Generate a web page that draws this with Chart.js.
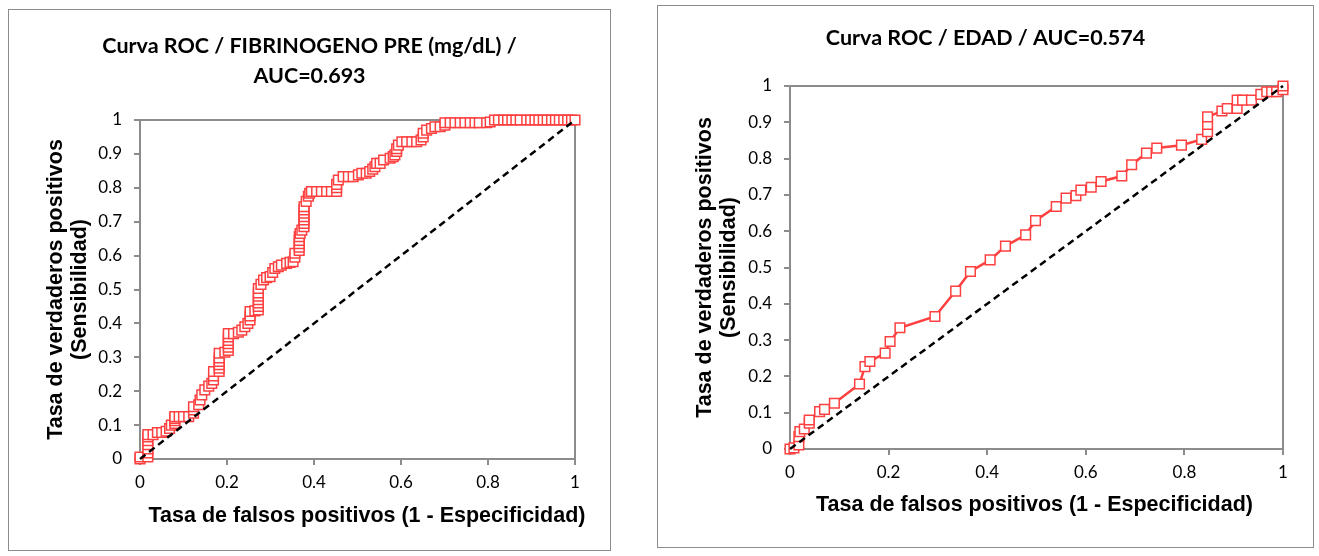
<!DOCTYPE html>
<html>
<head>
<meta charset="utf-8">
<script src="https://cdn.jsdelivr.net/npm/chart.js@4.4.1/dist/chart.umd.min.js"></script>
<style>
  body { margin: 0; background: #fff; }
  .box { position: absolute; border: 1px solid #8c8c8c; }
  #box1 { left: 8px; top: 9px; width: 601px; height: 540px; }
  #box2 { left: 657px; top: 5px; width: 655px; height: 541px; }
  canvas { display: block; }
</style>
</head>
<body>
<div class="box" id="box1"><canvas id="rocFib" width="601" height="540"></canvas></div>
<div class="box" id="box2"><canvas id="rocEdad" width="655" height="541"></canvas></div>
<script>
// ---- data ----
const xTickLabels = ['0', '0.2', '0.4', '0.6', '0.8', '1'];
const yTickLabels = ['0', '0.1', '0.2', '0.3', '0.4', '0.5', '0.6', '0.7', '0.8', '0.9', '1'];
const diagFpr = [0, 1];
const diagTpr = [0, 1];

// FIBRINOGENO PRE (mg/dL)
const fibFpr = [0, 0, 0.018, 0.018, 0.018, 0.018, 0.018, 0.018, 0.018, 0.03,
  0.04, 0.05, 0.06, 0.068, 0.072, 0.08, 0.08, 0.08, 0.08, 0.09,
  0.1, 0.112, 0.123, 0.123, 0.123, 0.135, 0.138, 0.142, 0.149, 0.158,
  0.165, 0.169, 0.169, 0.169, 0.182, 0.182, 0.182, 0.182, 0.182, 0.182,
  0.195, 0.203, 0.203, 0.203, 0.203, 0.203, 0.203, 0.215, 0.226, 0.234,
  0.241, 0.248, 0.253, 0.253, 0.253, 0.264, 0.272, 0.272, 0.272, 0.272,
  0.272, 0.272, 0.272, 0.278, 0.284, 0.291, 0.299, 0.305, 0.31, 0.318,
  0.325, 0.337, 0.345, 0.352, 0.356, 0.356, 0.366, 0.366, 0.366, 0.366,
  0.366, 0.368, 0.372, 0.377, 0.377, 0.377, 0.377, 0.377, 0.377, 0.377,
  0.382, 0.387, 0.39, 0.394, 0.406, 0.417, 0.429, 0.44, 0.452, 0.452,
  0.452, 0.456, 0.467, 0.479, 0.49, 0.502, 0.51, 0.52, 0.528, 0.535,
  0.54, 0.544, 0.552, 0.56, 0.575, 0.582, 0.586, 0.59, 0.59, 0.594,
  0.602, 0.613, 0.625, 0.636, 0.646, 0.651, 0.651, 0.659, 0.67, 0.678,
  0.69, 0.701, 0.701, 0.713, 0.724, 0.736, 0.747, 0.759, 0.77, 0.78,
  0.797, 0.805, 0.815, 0.824, 0.836, 0.845, 0.855, 0.864, 0.874, 0.889,
  0.898, 0.908, 0.917, 0.927, 0.936, 0.946, 0.955, 0.964, 0.974, 0.983,
  0.992, 1];
const fibTpr = [0, 0.006, 0.006, 0.018, 0.03, 0.042, 0.054, 0.065, 0.072, 0.072,
  0.078, 0.078, 0.082, 0.09, 0.1, 0.105, 0.113, 0.12, 0.125, 0.125,
  0.125, 0.125, 0.135, 0.145, 0.154, 0.16, 0.174, 0.189, 0.204, 0.215,
  0.223, 0.233, 0.245, 0.258, 0.258, 0.268, 0.278, 0.288, 0.298, 0.312,
  0.315, 0.32, 0.33, 0.34, 0.35, 0.36, 0.37, 0.37, 0.374, 0.38,
  0.39, 0.4, 0.41, 0.422, 0.435, 0.437, 0.44, 0.45, 0.46, 0.47,
  0.48, 0.49, 0.503, 0.515, 0.528, 0.535, 0.538, 0.55, 0.562, 0.567,
  0.572, 0.577, 0.58, 0.582, 0.595, 0.607, 0.615, 0.625, 0.635, 0.645,
  0.656, 0.665, 0.675, 0.685, 0.695, 0.705, 0.715, 0.725, 0.735, 0.744,
  0.76, 0.775, 0.784, 0.789, 0.789, 0.789, 0.789, 0.789, 0.789, 0.8,
  0.81, 0.823, 0.833, 0.833, 0.833, 0.838, 0.843, 0.843, 0.848, 0.855,
  0.862, 0.872, 0.872, 0.882, 0.887, 0.892, 0.897, 0.907, 0.915, 0.926,
  0.936, 0.936, 0.936, 0.936, 0.941, 0.95, 0.961, 0.97, 0.975, 0.98,
  0.98, 0.985, 0.992, 0.992, 0.992, 0.992, 0.992, 0.992, 0.992, 0.992,
  0.992, 0.994, 1, 1, 1, 1, 1, 1, 1, 1,
  1, 1, 1, 1, 1, 1, 1, 1, 1, 1,
  1, 1];

// EDAD
const edadFpr = [0, 0.008, 0.018, 0.018, 0.02, 0.029, 0.039, 0.039, 0.06, 0.07,
  0.09, 0.141, 0.152, 0.162, 0.193, 0.203, 0.223, 0.294, 0.336, 0.366,
  0.406, 0.437, 0.478, 0.498, 0.54, 0.56, 0.58, 0.59, 0.611, 0.631,
  0.673, 0.693, 0.723, 0.744, 0.794, 0.835, 0.847, 0.847, 0.847, 0.876,
  0.887, 0.907, 0.907, 0.918, 0.936, 0.955, 0.967, 0.977, 0.987, 1, 1];
const edadTpr = [0, 0.003, 0.011, 0.034, 0.048, 0.055, 0.071, 0.08, 0.103, 0.109,
  0.126, 0.179, 0.227, 0.241, 0.264, 0.296, 0.334, 0.365, 0.435, 0.489,
  0.521, 0.559, 0.59, 0.629, 0.668, 0.691, 0.698, 0.713, 0.721, 0.737,
  0.752, 0.783, 0.815, 0.829, 0.837, 0.853, 0.874, 0.894, 0.915, 0.931,
  0.938, 0.938, 0.961, 0.961, 0.961, 0.977, 0.984, 0.984, 0.984, 0.99, 1];

// ---- styling ----
const axisGray = '#8c8c8c';
const curveRed = '#ff4040';
const tickFont = { family: 'Lato', size: 17 };
const axisTitleFont = { family: '"Liberation Sans", Arial, sans-serif', weight: 'bold', size: 21.5, lineHeight: '24px' };

function pts(xs, ys) {
  return xs.map((x, i) => ({ x: x, y: ys[i] }));
}

// grey box around the plot area (drawn under the markers)
const plotFrame = {
  id: 'plotFrame',
  beforeDatasetsDraw(chart) {
    const { ctx, chartArea: a } = chart;
    ctx.save();
    ctx.strokeStyle = axisGray;
    ctx.lineWidth = 2;
    ctx.strokeRect(a.left, a.top, a.right - a.left, a.bottom - a.top);
    ctx.restore();
  }
};

// x axis title, placed like the spreadsheet does (it is wider than the plot)
const xTitle = {
  id: 'xTitle',
  afterDraw(chart, args, opts) {
    const { ctx, chartArea: a } = chart;
    ctx.save();
    ctx.font = 'bold 21.5px "Liberation Sans", Arial, sans-serif';
    ctx.fillStyle = '#000';
    ctx.textAlign = 'center';
    ctx.textBaseline = 'middle';
    ctx.fillText(opts.text, (a.left + a.right) / 2 + opts.dx, a.bottom + opts.dy);
    ctx.restore();
  }
};

function rocChart(id, cfg) {
  return new Chart(document.getElementById(id), {
    type: 'line',
    data: {
      datasets: [{
        data: pts(diagFpr, diagTpr),
        borderColor: '#000',
        borderWidth: 2.5,
        borderDash: [7, 4.5],
        pointRadius: 0,
        clip: false
      }, {
        data: pts(cfg.fpr, cfg.tpr),
        borderColor: curveRed,
        borderWidth: cfg.lineW,
        pointStyle: 'rect',
        pointRadius: 6.8,
        pointBorderWidth: 1.5,
        pointBorderColor: curveRed,
        pointBackgroundColor: '#fff',
        clip: false
      }]
    },
    options: {
      responsive: false,
      animation: false,
      events: [],
      plugins: {
        legend: { display: false },
        tooltip: { enabled: false },
        title: {
          display: true,
          text: cfg.title,
          color: '#000',
          font: { family: 'Lato', weight: 'bold', size: 21.5, lineHeight: '30px' },
          padding: cfg.titlePad
        },
        xTitle: { text: 'Tasa de falsos positivos (1 - Especificidad)', dx: cfg.xtDx, dy: cfg.xtDy }
      },
      scales: {
        x: {
          type: 'linear', min: 0, max: 1,
          border: { color: axisGray, width: 2 },
          grid: { drawOnChartArea: false, tickLength: 6, color: axisGray, lineWidth: 2 },
          ticks: {
            stepSize: 0.2, autoSkip: false, maxRotation: 0, padding: 7,
            color: '#000', font: tickFont,
            callback: (v, i) => xTickLabels[i]
          },
          afterFit: s => { s.height = cfg.xH; }
        },
        y: {
          type: 'linear', min: 0, max: 1,
          border: { color: axisGray, width: 2 },
          grid: { drawOnChartArea: false, tickLength: 6, color: axisGray, lineWidth: 2 },
          ticks: {
            stepSize: 0.1, autoSkip: false, padding: 12,
            color: '#000', font: tickFont,
            callback: (v, i) => yTickLabels[i]
          },
          title: {
            display: true,
            text: ['Tasa de verdaderos positivos', '(Sensibilidad)'],
            color: '#000',
            font: axisTitleFont,
            padding: { top: 35, bottom: 0 }
          },
          afterFit: s => { s.width = cfg.yW; }
        },
        pad: {
          type: 'linear', position: 'right', display: true,
          grid: { display: false }, border: { display: false }, ticks: { display: false },
          afterFit: s => { s.width = cfg.rightPad; }
        }
      }
    },
    plugins: [plotFrame, xTitle]
  });
}

Promise.all([
  document.fonts.load('bold 21px Lato'),
  document.fonts.load('17px Lato'),
  document.fonts.load('bold 21px "Liberation Sans"')
]).catch(() => {}).then(() => {
  rocChart('rocFib', {
    fpr: fibFpr, tpr: fibTpr,
    title: ['Curva ROC / FIBRINOGENO PRE (mg/dL) /', 'AUC=0.693'],
    titlePad: { top: 21, bottom: 29 },
    xH: 91, yW: 131, rightPad: 35, lineW: 2,
    xtDx: 9.5, xtDy: 57
  });
  rocChart('rocEdad', {
    fpr: edadFpr, tpr: edadTpr,
    title: 'Curva ROC / EDAD / AUC=0.574',
    titlePad: { top: 17, bottom: 33 },
    xH: 98, yW: 132, rightPad: 30, lineW: 2.5,
    xtDx: -2, xtDy: 56
  });
});
</script>
</body>
</html>
